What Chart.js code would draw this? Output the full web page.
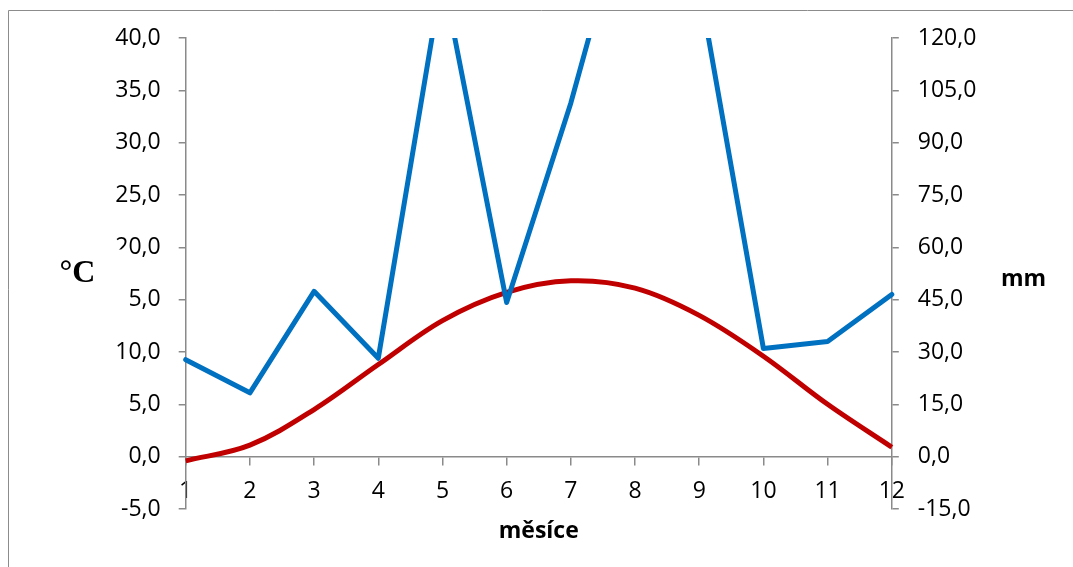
<!DOCTYPE html>
<html><head><meta charset="utf-8">
<script src="https://cdn.jsdelivr.net/npm/chart.js@4.4.0/dist/chart.umd.min.js"></script>
<style>html,body{margin:0;padding:0;background:#fff;}#wrap{width:1073px;height:567px;position:relative;}</style>
</head><body><div id="wrap"><canvas id="c" width="1073" height="567"></canvas></div>
<script>
// ---- data ----
const months = ['1','2','3','4','5','6','7','8','9','10','11','12'];
const precipitationMm = [27.8, 18.3, 47.4, 28.2, 138.0, 44.2, 101.4, 168.0, 135.0, 31.0, 33.0, 46.5];
const temperatureC = [-0.4, 1.1, 4.5, 8.8, 13.0, 15.7, 16.8, 16.1, 13.5, 9.6, 5.0, 0.9];
const tempAxis = [-5, 40, 5];     // min, max, step
const precipAxis = [-15, 120, 15]; // min, max, step
const xTitle = 'měsíce';
const leftTitle = '°C';
const rightTitle = 'mm';

const fmt = v => v.toFixed(1).replace('.', ',');
const AXIS = '#8a8a8a';
const FONT = "'Open Sans', sans-serif";

const decor = {
  id: 'decor',
  beforeDraw(chart) {
    const ctx = chart.ctx;
    ctx.save();
    ctx.fillStyle = '#fff';
    ctx.fillRect(0, 0, chart.width, chart.height);
    ctx.strokeStyle = '#8c8c8c';
    ctx.lineWidth = 1;
    ctx.beginPath();
    ctx.moveTo(8.5, chart.height + 2);
    ctx.lineTo(8.5, 10.5);
    ctx.lineTo(chart.width + 2, 10.5);
    ctx.stroke();
    ctx.restore();
  },
  afterDraw(chart) {
    const ctx = chart.ctx;
    const a = chart.chartArea;
    const midY = (a.top + a.bottom) / 2;
    ctx.save();
    // title box of the left axis title, overlapping tick labels as in the original
    ctx.fillStyle = '#fff';
    ctx.fillRect(38, midY - 24, 90, 62);
    ctx.fillStyle = '#000';
    ctx.textAlign = 'center';
    ctx.textBaseline = 'middle';
    ctx.font = "bold 32px 'Liberation Serif', serif";
    ctx.fillText(leftTitle, 77.5, midY);
    ctx.font = "bold 23px " + FONT;
    ctx.fillText(rightTitle, 1023.5, midY + 6);
    ctx.fillText(xTitle, (a.left + a.right) / 2, 531);
    ctx.restore();
  }
};

new Chart(document.getElementById('c'), {
  type: 'line',
  data: {
    labels: months,
    datasets: [
      {
        label: 'srážky',
        data: precipitationMm,
        yAxisID: 'y1',
        borderColor: '#0070C0',
        backgroundColor: '#0070C0',
        borderWidth: 5,
        pointRadius: 0,
        tension: 0,
        borderJoinStyle: 'round',
        borderCapStyle: 'round',
        clip: {left: 5, top: 0, right: 5, bottom: 5}
      },
      {
        label: 'teplota',
        data: temperatureC,
        yAxisID: 'y',
        borderColor: '#C00000',
        backgroundColor: '#C00000',
        borderWidth: 5,
        pointRadius: 0,
        tension: 0.35,
        borderJoinStyle: 'round',
        clip: {left: 5, top: 0, right: 5, bottom: 5}
      }
    ]
  },
  options: {
    responsive: false,
    animation: false,
    events: [],
    layout: { padding: { left: 0, right: 0, top: 38, bottom: 58 } },
    plugins: { legend: { display: false }, tooltip: { enabled: false } },
    scales: {
      x: {
        type: 'category',
        position: { y: 0 },
        offset: false,
        grid: { display: true, drawOnChartArea: false, drawTicks: true, tickLength: 8, color: AXIS, lineWidth: 1.5 },
        border: { display: true, color: AXIS, width: 1.5 },
        ticks: { color: '#000', font: { family: FONT, size: 23 }, padding: 13, autoSkip: false, maxRotation: 0 },
        afterFit: s => { s.height = 58; }
      },
      y: {
        type: 'linear',
        position: 'left',
        min: tempAxis[0], max: tempAxis[1],
        grid: { display: true, drawOnChartArea: false, drawTicks: true, tickLength: 7, color: AXIS, lineWidth: 1.5 },
        border: { display: true, color: AXIS, width: 1.5 },
        ticks: { stepSize: tempAxis[2], color: '#000', font: { family: FONT, size: 23 }, padding: 18, callback: v => fmt(v) },
        afterFit: s => { s.width = 185.7; }
      },
      y1: {
        type: 'linear',
        position: 'right',
        min: precipAxis[0], max: precipAxis[1],
        grid: { display: true, drawOnChartArea: false, drawTicks: true, tickLength: 7, color: AXIS, lineWidth: 1.5 },
        border: { display: true, color: AXIS, width: 1.5 },
        ticks: { stepSize: precipAxis[2], color: '#000', font: { family: FONT, size: 23 }, padding: 19, callback: v => fmt(v) },
        afterFit: s => { s.width = 181.2; }
      }
    }
  },
  plugins: [decor]
});
</script>
</body></html>
